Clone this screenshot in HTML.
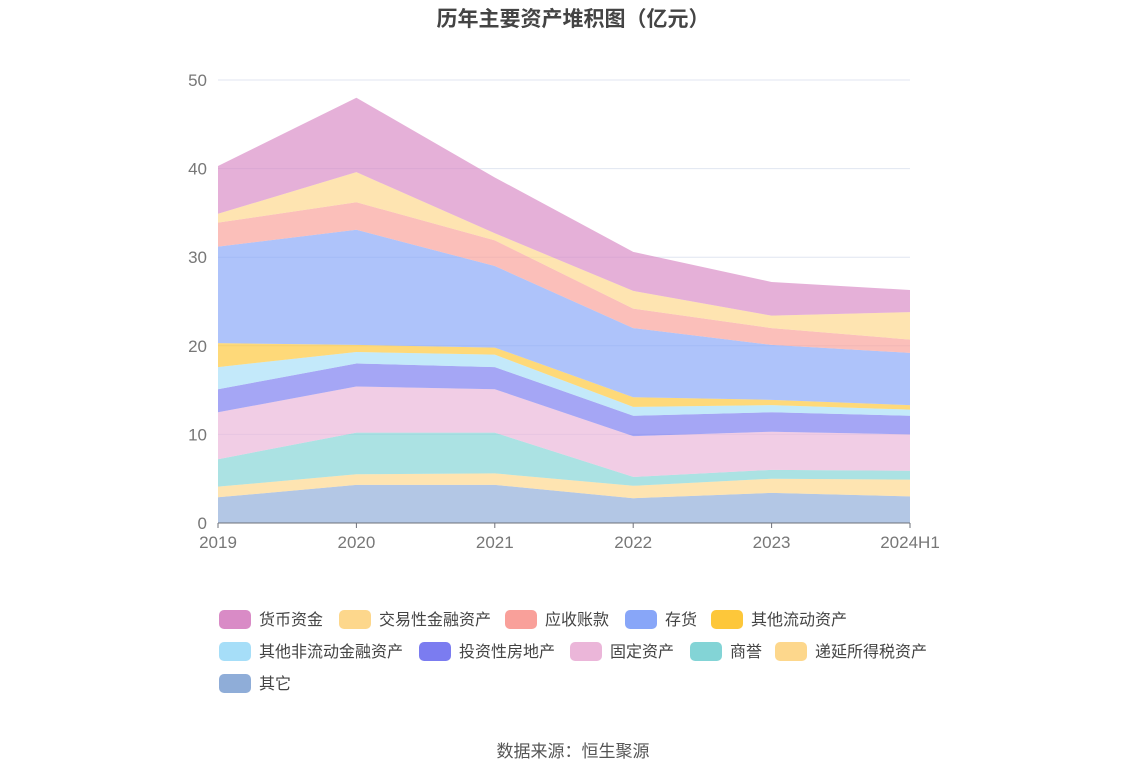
<!DOCTYPE html>
<html><head><meta charset="utf-8"><style>
body{margin:0;background:#fff;font-family:"Liberation Sans","Noto Sans CJK SC",sans-serif}
svg{display:block}
</style></head><body>
<svg id="chart" width="1147" height="776" xmlns="http://www.w3.org/2000/svg">
<text x="573" y="26" text-anchor="middle" font-size="21" font-weight="bold" fill="#444" font-family="Liberation Sans, Noto Sans CJK SC, sans-serif">历年主要资产堆积图（亿元）</text>
<g id="grid"></g><g id="areas"></g><g id="axes"></g><g id="legend"></g>
<text x="573" y="757" text-anchor="middle" font-size="17" fill="#555" font-family="Liberation Sans, Noto Sans CJK SC, sans-serif">数据来源：恒生聚源</text>
</svg>
<script>
const categories=["2019","2020","2021","2022","2023","2024H1"];
const yTicks=[0,10,20,30,40,50];
const seriesNames=["其它","递延所得税资产","商誉","固定资产","投资性房地产","其他非流动金融资产","其他流动资产","存货","应收账款","交易性金融资产","货币资金"];
const vOther=[2.9,4.3,4.3,2.8,3.4,3.0];
const vDeferred=[1.2,1.2,1.3,1.4,1.6,1.9];
const vGoodwill=[3.1,4.7,4.6,1.0,1.0,1.0];
const vFixed=[5.3,5.2,4.9,4.6,4.3,4.1];
const vInvest=[2.6,2.6,2.5,2.3,2.2,2.1];
const vNoncurFin=[2.5,1.3,1.4,1.0,0.8,0.7];
const vOtherCur=[2.7,0.8,0.8,1.1,0.6,0.5];
const vInventory=[10.9,13.0,9.2,7.8,6.2,5.9];
const vReceivable=[2.7,3.1,2.9,2.2,1.9,1.5];
const vTrading=[1.0,3.4,0.8,2.0,1.4,3.1];
const vCash=[5.4,8.4,6.3,4.4,3.8,2.5];
const seriesValues=[vOther,vDeferred,vGoodwill,vFixed,vInvest,vNoncurFin,vOtherCur,vInventory,vReceivable,vTrading,vCash];
const colors=["#8fadd8","#fdd78c","#83d4d6","#ebb6d9","#7b7cf0","#a6def8","#fdc73a","#88a6f8","#f9a09a","#fdd78c","#d98bc6"];
const NS="http://www.w3.org/2000/svg";
const x0=218,x1=910,yb=523,yt=80,ymax=50;
const xs=i=>x0+(x1-x0)*i/(categories.length-1);
const ys=v=>yb-(yb-yt)*v/ymax;
function el(t,a,p){const e=document.createElementNS(NS,t);for(const k in a)e.setAttribute(k,a[k]);p.appendChild(e);return e;}
const grid=document.getElementById('grid'),axes=document.getElementById('axes'),areas=document.getElementById('areas'),legend=document.getElementById('legend');
yTicks.forEach(t=>{
 if(t>0){const l=el('line',{x1:x0,x2:x1,y1:ys(t),y2:ys(t),stroke:'#e0e6f1'},grid);
 
 }
 const tx=el('text',{x:207,y:ys(t)+6,'text-anchor':'end','font-size':17,fill:'#777'},axes);tx.textContent=t;
 
 
});
let base=categories.map(()=>0);
seriesValues.forEach((vals,s)=>{
 const top=base.map((b,i)=>b+vals[i]);
 let d='M'+categories.map((c,i)=>xs(i)+','+ys(top[i])).join('L');
 for(let i=categories.length-1;i>=0;i--)d+='L'+xs(i)+','+ys(base[i]);
 d+='Z';
 const p=el('path',{d:d,fill:colors[s],'fill-opacity':0.68},areas);
 
 
 base=top;
});
const ax=el('line',{x1:x0,x2:x1,y1:yb,y2:yb,stroke:'#6e7079'},axes);


categories.forEach((c,i)=>{
 const tk=el('line',{x1:xs(i),x2:xs(i),y1:yb,y2:yb+5,stroke:'#6e7079'},axes);
 
 
 const t=el('text',{x:xs(i),y:yb+25,'text-anchor':'middle','font-size':17,fill:'#777'},axes);t.textContent=c;
 
 
});
const legendOrder=[10,9,8,7,6,5,4,3,2,1,0];
const legendPos=[[219,619],[339,619],[505,619],[625,619],[711,619],[219,651],[419,651],[570,651],[690,651],[775,651],[219,683]];
legendOrder.forEach((s,k)=>{
 const [lx,ly]=legendPos[k];
 const g=el('g',{},legend);
 
 
 el('rect',{x:lx,y:ly-9,width:32,height:19,rx:5,fill:colors[s]},g);
 const t=el('text',{x:lx+40,y:ly+6,'font-size':16,fill:'#444'},g);t.textContent=seriesNames[s];
});
</script>
</body></html>
